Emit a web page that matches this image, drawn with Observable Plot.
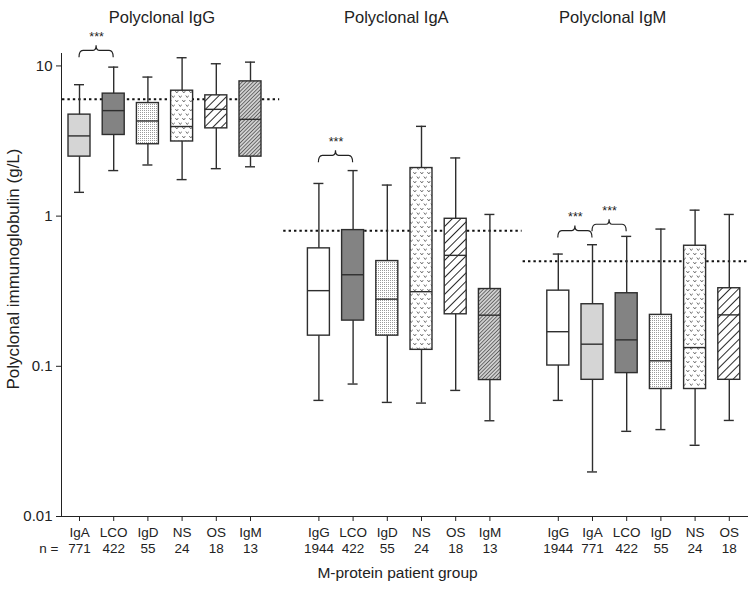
<!DOCTYPE html>
<html>
<head>
<meta charset="utf-8">
<script src="https://cdn.jsdelivr.net/npm/d3@7"></script>
<script src="https://cdn.jsdelivr.net/npm/@observablehq/plot@0.6"></script>
<style>
  html, body { margin: 0; padding: 0; background: #fff; }
  #chart svg { display: block; }
</style>
</head>
<body>
<svg width="0" height="0" style="position:absolute">
  <defs>
    <pattern id="pIgD" width="2" height="2" patternUnits="userSpaceOnUse">
      <rect width="2" height="2" fill="#fff"/>
      <rect width="1" height="1" fill="#9a9a9a"/>
    </pattern>
    <pattern id="pNS" width="7" height="9" patternUnits="userSpaceOnUse">
      <rect width="7" height="9" fill="#fff"/>
      <path d="M0.3,1 L1.8,3 L3.3,1" fill="none" stroke="#666" stroke-width="0.9"/>
      <path d="M3.8,5.5 L5.3,7.5 L6.8,5.5" fill="none" stroke="#666" stroke-width="0.9"/>
    </pattern>
    <pattern id="pOS" width="6" height="6" patternUnits="userSpaceOnUse" patternTransform="rotate(45)">
      <rect width="6" height="6" fill="#fff"/>
      <line x1="0" y1="0" x2="0" y2="6" stroke="#111" stroke-width="1.8"/>
    </pattern>
    <pattern id="pIgM" width="2.6" height="2.6" patternUnits="userSpaceOnUse" patternTransform="rotate(45)">
      <rect width="2.6" height="2.6" fill="#d0d0d0"/>
      <line x1="0" y1="0" x2="0" y2="2.6" stroke="#3a3a3a" stroke-width="1.3"/>
    </pattern>
  </defs>
</svg>
<div id="chart"></div>
<script>
// ---------- data ----------
const panels = ["IgG", "IgA", "IgM"];
const panelTitles = ["Polyclonal IgG", "Polyclonal IgA", "Polyclonal IgM"];

const groupsIgG = ["IgA", "LCO", "IgD", "NS", "OS", "IgM"];
const nIgG      = [771, 422, 55, 24, 18, 13];
const lowIgG    = [1.44, 2.01, 2.19, 1.75, 2.07, 2.13];
const q1IgG     = [2.49, 3.47, 3.01, 3.14, 3.84, 2.49];
const medIgG    = [3.42, 5.04, 4.30, 3.95, 5.14, 4.41];
const q3IgG     = [4.74, 6.54, 5.66, 6.84, 6.37, 7.89];
const highIgG   = [7.50, 9.82, 8.43, 11.34, 10.34, 10.6];

const groupsIgA = ["IgG", "LCO", "IgD", "NS", "OS", "IgM"];
const nIgA      = [1944, 422, 55, 24, 18, 13];
const lowIgA    = [0.0593, 0.0762, 0.0575, 0.0569, 0.0691, 0.0434];
const q1IgA     = [0.160, 0.2015, 0.160, 0.1287, 0.222, 0.081];
const medIgA    = [0.319, 0.407, 0.280, 0.314, 0.548, 0.219];
const q3IgA     = [0.610, 0.807, 0.502, 2.09, 0.96, 0.327];
const highIgA   = [1.65, 2.01, 1.61, 3.96, 2.44, 1.026];

const groupsIgM = ["IgG", "IgA", "LCO", "IgD", "NS", "OS"];
const nIgM      = [1944, 771, 422, 55, 24, 18];
const lowIgM    = [0.0593, 0.0198, 0.0369, 0.0379, 0.0298, 0.0436];
const q1IgM     = [0.1012, 0.0813, 0.0901, 0.0706, 0.0706, 0.0813];
const medIgM    = [0.170, 0.1404, 0.150, 0.1088, 0.1333, 0.22];
const q3IgM     = [0.319, 0.259, 0.3065, 0.22, 0.635, 0.331];
const highIgM   = [0.559, 0.645, 0.733, 0.82, 1.096, 1.026];

const refLimit = [6.0, 0.8, 0.5];

const bracketPanel = ["IgG", "IgA", "IgM", "IgM"];
const bracketFrom  = ["IgA", "IgG", "IgG", "IgA"];
const bracketTo    = ["LCO", "LCO", "IgA", "LCO"];
const bracketLevel = [12.6, 2.52, 0.795, 0.876];
const bracketText  = ["***", "***", "***", "***"];

// ---------- build tables ----------
const src = {
  IgG: [groupsIgG, nIgG, lowIgG, q1IgG, medIgG, q3IgG, highIgG],
  IgA: [groupsIgA, nIgA, lowIgA, q1IgA, medIgA, q3IgA, highIgA],
  IgM: [groupsIgM, nIgM, lowIgM, q1IgM, medIgM, q3IgM, highIgM]
};
const key = (p, g) => p + "|" + g;
const table = [];
const xDomain = [];
panels.forEach((p, pi) => {
  const [gs, ns, lo, q1, md, q3, hi] = src[p];
  gs.forEach((g, i) => {
    const k = key(p, g);
    xDomain.push(k);
    table.push({panel: p, group: g, key: k, n: ns[i], low: lo[i], q1: q1[i], median: md[i], q3: q3[i], high: hi[i]});
  });
  if (pi < panels.length - 1) xDomain.push("gap" + pi);
});
const realKeys = table.map(d => d.key);

const brackets = bracketPanel.map((p, i) => ({
  from: key(p, bracketFrom[i]), to: key(p, bracketTo[i]), level: bracketLevel[i], text: bracketText[i]
}));

const fillFor = {
  IgG: "#ffffff", IgA: "#d5d5d5", LCO: "#838383",
  IgD: "url(#pIgD)", NS: "url(#pNS)", OS: "url(#pOS)", IgM: "url(#pIgM)"
};

// curly bracket mark drawn through the scales
function braceMark(index, scales) {
  const xs = scales.x, ys = scales.y;
  const half = xs.bandwidth ? xs.bandwidth() / 2 : 0;
  const g = d3.create("svg:g").attr("fill", "none").attr("stroke", "#222").attr("stroke-width", 1.2);
  for (const b of brackets) {
    const xa = xs(b.from) + half, xb = xs(b.to) + half, y0 = ys(b.level), xm = (xa + xb) / 2;
    const d = `M${xa},${y0 + 7} Q${xa},${y0} ${xa + 4},${y0} L${xm - 3},${y0} Q${xm},${y0} ${xm},${y0 - 5}` +
              ` Q${xm},${y0} ${xm + 3},${y0} L${xb - 4},${y0} Q${xb},${y0} ${xb},${y0 + 7}`;
    g.append("path").attr("d", d);
  }
  return g.node();
}

const dash = {stroke: "#111", strokeWidth: 2, strokeDasharray: "2.4,3"};
const boxStroke = {stroke: "#2e2e2e", strokeWidth: 1.4};

const chart = Plot.plot({
  width: 750,
  height: 590,
  marginLeft: 61,
  marginRight: 3,
  marginTop: 53,
  marginBottom: 74,
  style: {fontFamily: "'Liberation Sans', Arial, sans-serif", fontSize: "15px", color: "#222", background: "#fff"},
  x: {
    type: "band", domain: xDomain, range: [61, 746.8],
    paddingInner: 0.357, paddingOuter: 0.205, align: 0.5, round: false,
    ticks: realKeys, tickFormat: () => "", tickSize: 5, line: true, label: null
  },
  y: {
    type: "log", domain: [0.01, 12.1], ticks: [0.01, 0.1, 1, 10],
    tickFormat: d => String(d), tickSize: 5, tickPadding: 4, line: true, label: null
  },
  color: {type: "identity"},
  marks: [
    // reference lines
    Plot.ruleY([refLimit[0]], {y: d => d, x1: () => key("IgG", groupsIgG[0]), x2: () => "gap0", insetLeft: -6, insetRight: 16, ...dash}),
    Plot.ruleY([refLimit[1]], {y: d => d, x1: () => "gap0", x2: () => "gap1", insetLeft: 10, insetRight: 13, ...dash}),
    Plot.ruleY([refLimit[2]], {y: d => d, x1: () => "gap1", x2: () => key("IgM", groupsIgM[5]), insetLeft: 10, insetRight: -8, ...dash}),
    // whiskers
    Plot.ruleX(table, {x: "key", y1: "low", y2: "high", ...boxStroke}),
    // boxes
    Plot.barY(table, {x: "key", y1: "q1", y2: "q3", fill: d => fillFor[d.group], ...boxStroke}),
    // medians
    Plot.tickY(table, {x: "key", y: "median", ...boxStroke}),
    // whisker caps
    Plot.tickY(table, {x: "key", y: "low", insetLeft: 6, insetRight: 6, ...boxStroke}),
    Plot.tickY(table, {x: "key", y: "high", insetLeft: 6, insetRight: 6, ...boxStroke}),
    // significance brackets
    braceMark,
    Plot.text(brackets, {x: "from", y: "level", text: "text", dx: 17.1, dy: -14, fontSize: 12.5, fill: "#222"}),
    // panel titles
    Plot.text([panelTitles[0]], {x: () => key("IgG", "IgD"), text: d => d, frameAnchor: "top", dy: -42, dx: 14, fontSize: 16.5, fill: "#222"}),
    Plot.text([panelTitles[1]], {x: () => key("IgA", "IgD"), text: d => d, frameAnchor: "top", dy: -42, dx: 9, fontSize: 16.5, fill: "#222"}),
    Plot.text([panelTitles[2]], {x: () => key("IgM", "LCO"), text: d => d, frameAnchor: "top", dy: -42, dx: -14, fontSize: 16.5, fill: "#222"}),
    // x labels: group and n
    Plot.text(table, {x: "key", text: "group", frameAnchor: "bottom", dy: 20, fontSize: 13.5, fill: "#222"}),
    Plot.text(table, {x: "key", text: d => String(d.n), frameAnchor: "bottom", dy: 36, fontSize: 13.5, fill: "#222"}),
    Plot.text(["n ="], {text: d => d, frameAnchor: "bottom-left", dy: 36, dx: -3, textAnchor: "end", fontSize: 13.5, fill: "#222"}),
    // axis titles
    Plot.text(["M-protein patient group"], {text: d => d, frameAnchor: "bottom", dy: 61, dx: -7, fontSize: 15.5, fill: "#222"}),
    Plot.text(["Polyclonal immunoglobulin (g/L)"], {text: d => d, frameAnchor: "left", textAnchor: "middle", rotate: -90, dx: -48, dy: -16, fontSize: 17, fill: "#222"})
  ]
});
document.getElementById("chart").appendChild(chart);
</script>
</body>
</html>
